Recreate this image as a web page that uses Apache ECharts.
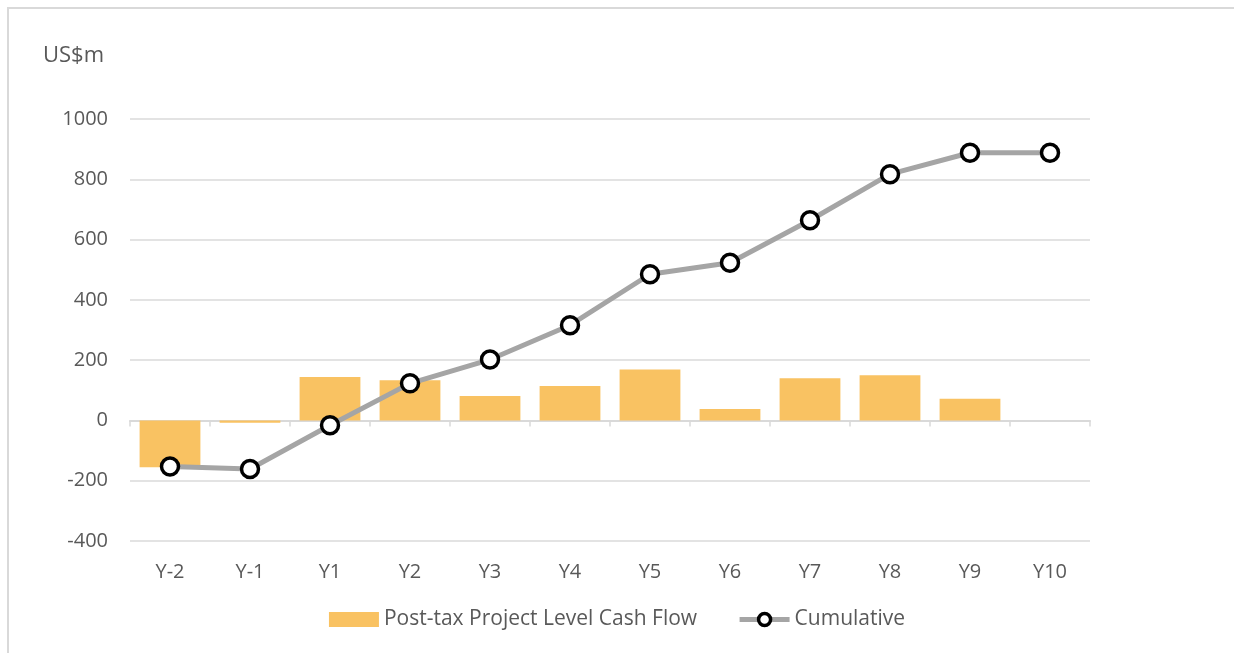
<!DOCTYPE html>
<html>
<head>
<meta charset="utf-8">
<script src="https://cdn.jsdelivr.net/npm/echarts@6/dist/echarts.min.js"></script>
<style>
  html, body { margin: 0; padding: 0; background: #fff; }
  #chart { width: 1234px; height: 653px; }
</style>
</head>
<body>
<div id="chart"></div>
<script>
const categories = ['Y-2', 'Y-1', 'Y1', 'Y2', 'Y3', 'Y4', 'Y5', 'Y6', 'Y7', 'Y8', 'Y9', 'Y10'];
const cashFlow = [-155, -8, 144, 133, 81, 114, 169, 38, 140, 150, 72, 0];
const cumulative = [-153, -161, -16, 123, 202, 316, 485, 523, 664, 817, 888, 888];
const yTicks = { min: -400, max: 1000, interval: 200 };

const font = '"Open Sans", "Liberation Sans", sans-serif';
const textColor = '#595959';

const chart = echarts.init(document.getElementById('chart'));

chart.setOption({
  animation: false,
  backgroundColor: '#fff',
  textStyle: { fontFamily: font },
  graphic: [
    { type: 'line', shape: { x1: 7, y1: 8, x2: 1234, y2: 8 }, style: { stroke: '#D9D9D9', lineWidth: 2 } },
    { type: 'line', shape: { x1: 8, y1: 7, x2: 8, y2: 653 }, style: { stroke: '#D9D9D9', lineWidth: 2 } }
  ],
  title: {
    text: 'US$m',
    left: 38,
    top: 40,
    textStyle: { fontFamily: font, fontSize: 22, fontWeight: 'normal', color: textColor }
  },
  legend: {
    bottom: 18,
    left: 'center',
    itemWidth: 50,
    itemHeight: 15,
    itemGap: 40,
    textStyle: { fontFamily: font, fontSize: 21, color: textColor },
    data: [
      { name: 'Post-tax Project Level Cash Flow', icon: 'rect' },
      {
        name: 'Cumulative',
        lineStyle: { width: 5, color: '#A5A5A5' },
        itemStyle: { color: '#fff', borderColor: '#000', borderWidth: 3.5 }
      }
    ]
  },
  grid: { left: 130, right: 144, top: 119, bottom: 112, containLabel: false },
  xAxis: [
    {
      type: 'category',
      data: categories,
      position: 'bottom',
      axisLine: { show: false, onZero: false },
      axisTick: { show: false },
      axisLabel: { color: textColor, fontSize: 20, fontFamily: font, margin: 21 }
    },
    {
      type: 'category',
      data: categories,
      position: 'bottom',
      axisLine: { show: true, onZero: true, lineStyle: { color: '#D9D9D9', width: 2 } },
      axisTick: { show: true, length: 6, lineStyle: { color: '#D9D9D9', width: 1.5 } },
      axisLabel: { show: false }
    }
  ],
  yAxis: {
    type: 'value',
    min: yTicks.min,
    max: yTicks.max,
    interval: yTicks.interval,
    axisLine: { show: false },
    axisTick: { show: false },
    axisLabel: { color: textColor, fontSize: 20, fontFamily: font, margin: 22, formatter: v => String(v) },
    splitLine: { lineStyle: { color: '#E3E3E3', width: 2 } }
  },
  series: [
    {
      name: 'Post-tax Project Level Cash Flow',
      type: 'bar',
      data: cashFlow,
      barCategoryGap: '24%',
      itemStyle: { color: '#F9C262' }
    },
    {
      name: 'Cumulative',
      type: 'line',
      data: cumulative,
      symbol: 'circle',
      symbolSize: 17,
      lineStyle: { color: '#A5A5A5', width: 5 },
      itemStyle: { color: '#fff', borderColor: '#000', borderWidth: 3.5 },
      z: 5
    }
  ]
});
</script>
</body>
</html>
